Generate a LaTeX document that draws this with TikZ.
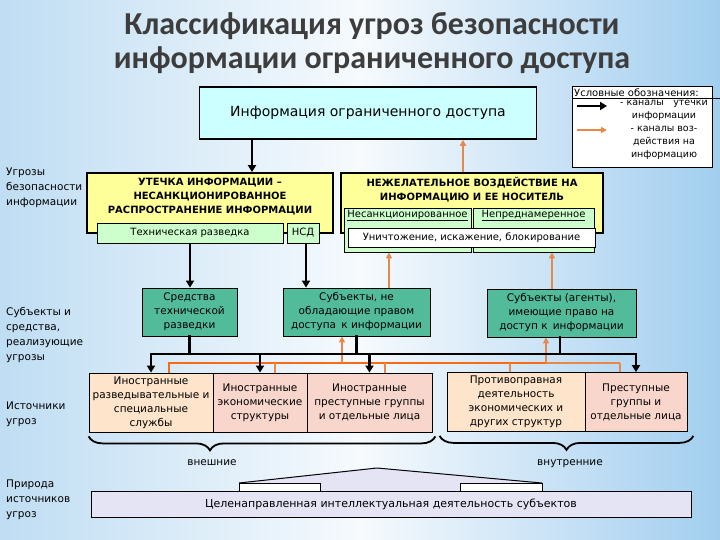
\documentclass[tikz,border=0pt]{standalone}
\usepackage{fontspec}
\setmainfont{DejaVu Sans}
\newfontfamily\titlefont{Carlito}
\usetikzlibrary{arrows.meta, positioning, decorations.pathreplacing}

\definecolor{bgside}{HTML}{BFDDF3}
\definecolor{bgmid}{HTML}{F6FAFD}
\definecolor{bgright}{HTML}{A2CEEF}
\definecolor{infofill}{HTML}{CCFFFF}
\definecolor{threatfill}{HTML}{FFFF99}
\definecolor{chanfill}{HTML}{CCFFCC}
\definecolor{agentfill}{HTML}{52BB99}
\definecolor{peach}{HTML}{FDE4CA}
\definecolor{rose}{HTML}{F9D6CC}
\definecolor{lavender}{HTML}{E4E4F4}
\definecolor{actorange}{HTML}{F86A16}
\definecolor{actlight}{HTML}{E8874A}
\definecolor{titlegray}{HTML}{3D3D3D}

\begin{document}
\begin{tikzpicture}[
    x = 1pt, y = -1pt,
    box/.style = {draw = black, line width = 0.8pt, align = center, inner sep = 1pt,
      font = \fontsize{10.5}{14}\selectfont},
    infobox/.style = {box, fill = infofill, line width = 1.6pt,
      minimum width = 337pt, minimum height = 52pt, font = \fontsize{14}{17}\selectfont},
    threat/.style = {box, fill = threatfill, line width = 1.8pt, minimum height = 60pt},
    headtxt/.style = {align = center, inner sep = 0pt, font = \bfseries\fontsize{10}{14}\selectfont},
    chan/.style = {box, fill = chanfill, font = \fontsize{10}{12}\selectfont},
    agent/.style = {box, fill = agentfill, minimum height = 48pt},
    source/.style = {box, minimum height = 59pt},
    side/.style = {anchor = west, align = left, inner sep = 0pt, font = \fontsize{10.5}{15}\selectfont},
    legtxt/.style = {align = center, inner sep = 0pt, font = \fontsize{9.5}{13}\selectfont},
    leakarr/.style = {-{Triangle[length=7pt, width=8pt]}, line width = 2.4pt},
    leakline/.style = {line width = 2.4pt, line cap = rect},
    actarr/.style = {-{Triangle[length=6pt, width=6pt]}, line width = 1.4pt, actlight},
    actline/.style = {line width = 1.2pt, actlight},
    actbus/.style = {line width = 2.6pt, actorange},
    grp/.style = {decorate, line width = 1.8pt,
      decoration = {brace, mirror, amplitude = 14pt}}
  ]
    % ── Background ───────────────────────────────────────────────────────────
    \useasboundingbox (0,0) rectangle (720,540);
    \shade[left color = bgside, right color = bgright, middle color = bgmid]
      (0,0) rectangle (720,540);
    \coordinate (rim)  at (720,0);
    \coordinate (busy) at (0,354);
    \coordinate (acty) at (0,363);

    % ── Title and row captions ───────────────────────────────────────────────
    \node[align = center, text = titlegray,
      font = \titlefont\bfseries\fontsize{32}{34}\selectfont] (title) at (372,43)
      {Классификация угроз безопасности\\информации ограниченного доступа};

    \node[side] (threatlbl) at (6,188)   {Угрозы\\безопасности\\информации};
    \node[side] (agentlbl)  at (6,335.5) {Субъекты и\\средства,\\реализующие\\угрозы};
    \node[side] (sourcelbl) at (6,414.5) {Источники\\угроз};
    \node[side] (naturelbl) at (6,500)   {Природа\\источников\\угроз};

    % ── Protected information and legend ─────────────────────────────────────
    \node[infobox] (info) at (368,113) {Информация ограниченного доступа};

    \node[draw, fill = white, line width = 0.8pt, minimum width = 140pt,
      minimum height = 81pt] (legend) at (642,126.5) {};
    \node[anchor = west, inner sep = 1pt, font = \fontsize{10}{12}\selectfont]
      (legendhead) at (573,93) {Условные обозначения:};
    \draw (legendhead.south west) -- (legendhead.south west -| rim);
    \coordinate (lgA) at (577,106);
    \coordinate (lgB) at (607,106);
    \coordinate (lgC) at (577,130);
    \coordinate (lgD) at (607,130);
    \draw[leakarr] (lgA) -- (lgB);
    \draw[actarr, line width = 2pt] (lgC) -- (lgD);
    \node[legtxt] (legleak) at (664,110.5) {- каналы\quad утечки\\информации};
    \node[legtxt] (legact)  at (664,143)   {- каналы воз-\\действия на\\информацию};

    % ── Threat classes ───────────────────────────────────────────────────────
    \node[threat, minimum width = 246pt] (leak) at (210,203) {};
    \node[headtxt, below = 6pt of leak.north] (leakhead)
      {УТЕЧКА ИНФОРМАЦИИ –\\НЕСАНКЦИОНИРОВАННОЕ\\РАСПРОСТРАНЕНИЕ ИНФОРМАЦИИ};
    \node[chan, minimum width = 186pt, minimum height = 20pt] (techint) at (190,233)
      {Техническая разведка};
    \node[chan, minimum width = 32pt, minimum height = 20pt] (nsd) at (303,233) {НСД};

    \node[threat, minimum width = 262pt] (impact) at (472,203) {};
    \node[headtxt, below = 5pt of impact.north] (impacthead)
      {НЕЖЕЛАТЕЛЬНОЕ ВОЗДЕЙСТВИЕ НА\\ИНФОРМАЦИЮ И ЕЕ НОСИТЕЛЬ};
    \node[chan, minimum width = 127pt, minimum height = 44pt,
      label = {[anchor = north, inner sep = 1pt, yshift = -1pt,
        font = \fontsize{10}{12}\selectfont]north:\underline{Несанкционированное}}]
      (unauth) at (407.5,230) {};
    \node[chan, minimum width = 121pt, minimum height = 44pt,
      label = {[anchor = north, inner sep = 1pt, yshift = -1pt,
        font = \fontsize{10}{12}\selectfont]north:\underline{Непреднамеренное}}]
      (unint) at (533.5,230) {};
    \node[box, fill = white, minimum width = 247pt, minimum height = 19pt,
      font = \fontsize{10}{12}\selectfont] (destroy) at (471.5,237.5)
      {Уничтожение, искажение, блокирование};

    % ── Subjects and means ───────────────────────────────────────────────────
    \node[agent, minimum width = 95pt]  (means)     at (189.5,312)
      {Средства\\технической\\разведки};
    \node[agent, minimum width = 147pt] (outsiders) at (356.5,312)
      {Субъекты, не\\обладающие правом\\доступа\enspace к информации};
    \node[agent, minimum width = 149pt] (insiders)  at (561.5,313)
      {Субъекты (агенты),\\имеющие право на\\доступ к\enspace информации};

    % ── Sources ──────────────────────────────────────────────────────────────
    \node[source, fill = peach, minimum width = 124pt] (srcA) at (151,402.5)
      {Иностранные\\разведывательные и\\специальные\\службы};
    \node[source, fill = rose, minimum width = 94pt]   (srcB) at (260,402.5)
      {Иностранные\\экономические\\структуры};
    \node[source, fill = rose, minimum width = 125pt]  (srcC) at (369.5,402.5)
      {Иностранные\\преступные группы\\и отдельные лица};
    \node[source, fill = peach, minimum width = 138pt] (srcD) at (516,402)
      {Противоправная\\деятельность\\экономических и\\других структур};
    \node[source, fill = rose, minimum width = 102pt]  (srcE) at (636,402)
      {Преступные\\группы и\\отдельные лица};

    % ── Impact channels (orange) ─────────────────────────────────────────────
    \draw[actarr] ([xshift=-9pt]impact.north) -- ([xshift=-9pt]impact.north |- info.south);
    \draw[actarr] ([xshift=32.5pt]outsiders.north) -- ([xshift=32.5pt]outsiders.north |- unauth.south);
    \draw[actarr] ([xshift=-9.5pt]insiders.north) -- ([xshift=-9.5pt]insiders.north |- unint.south);
    \draw[actbus] ([xshift=18pt]srcA.north) -- ([xshift=18pt]srcA.north |- acty)
      -- ([xshift=-15.5pt]insiders.south |- acty);
    \draw[actline] ([xshift=-15.5pt]insiders.south |- acty) -- ([xshift=-16pt]srcE.north |- acty);
    \draw[actline] ([xshift=15pt]srcB.north |- acty)   -- ([xshift=15pt]srcB.north);
    \draw[actline] ([xshift=15.5pt]srcC.north |- acty) -- ([xshift=15.5pt]srcC.north);
    \draw[actline] ([xshift=-6pt]srcD.north |- acty)   -- ([xshift=-6pt]srcD.north);
    \draw[actline] ([xshift=-16pt]srcE.north |- acty)  -- ([xshift=-16pt]srcE.north);
    \draw[actarr] ([xshift=-14.5pt]outsiders.south |- acty) -- ([xshift=-14.5pt]outsiders.south);
    \draw[actarr] ([xshift=-15.5pt]insiders.south |- acty)  -- ([xshift=-15.5pt]insiders.south);

    % ── Leakage channels (black) ─────────────────────────────────────────────
    \draw[leakarr] ([xshift=-116pt]info.south) -- ([xshift=-116pt]info.south |- leak.north);
    \draw[leakarr] (techint.south) -- (techint.south |- means.north);
    \draw[leakarr] ([xshift=3pt]nsd.south) -- ([xshift=3pt]nsd.south |- outsiders.north);
    \draw[leakline] (means.south)     -- (means.south |- busy);
    \draw[leakline] (outsiders.south) -- (outsiders.south |- busy);
    \draw[leakline] ([xshift=-1.5pt]insiders.south) -- ([xshift=-1.5pt]insiders.south |- busy);
    \draw[leakline] (srcA.north |- busy) -- (srcE.north |- busy);
    \foreach \src in {srcA, srcB, srcC, srcE}
      \draw[leakarr] (\src.north |- busy) -- (\src.north);

    % ── Groups ───────────────────────────────────────────────────────────────
    \draw[grp, decoration = {aspect = 0.35}]
      ([yshift=-4pt]srcA.south west) -- ([yshift=-4pt, xshift=3pt]srcC.south east);
    \draw[grp, decoration = {aspect = 0.5}]
      ([yshift=-4pt, xshift=-7pt]srcD.south west) -- ([yshift=-4pt, xshift=6pt]srcE.south east);
    \node[font = \fontsize{10.5}{12}\selectfont] (external) at (212,463) {внешние};
    \node[font = \fontsize{10.5}{12}\selectfont] (internal) at (570,464) {внутренние};

    % ── Nature of sources ────────────────────────────────────────────────────
    \fill[lavender] (239,491) -- (239,483) -- (377,468) -- (542,483) -- (542,491) -- cycle;
    \draw[line width = 1pt] (239,483) -- (377,468) -- (542,483);
    \draw[line width = 0.8pt, fill = white] (239,483) rectangle (320,491);
    \draw[line width = 0.8pt, fill = white] (460,483) rectangle (542,491);
    \node[box, fill = lavender, minimum width = 600pt, minimum height = 26pt,
      font = \fontsize{11}{13}\selectfont] (nature) at (391,504)
      {Целенаправленная интеллектуальная деятельность субъектов};
  \end{tikzpicture}
\end{document}
